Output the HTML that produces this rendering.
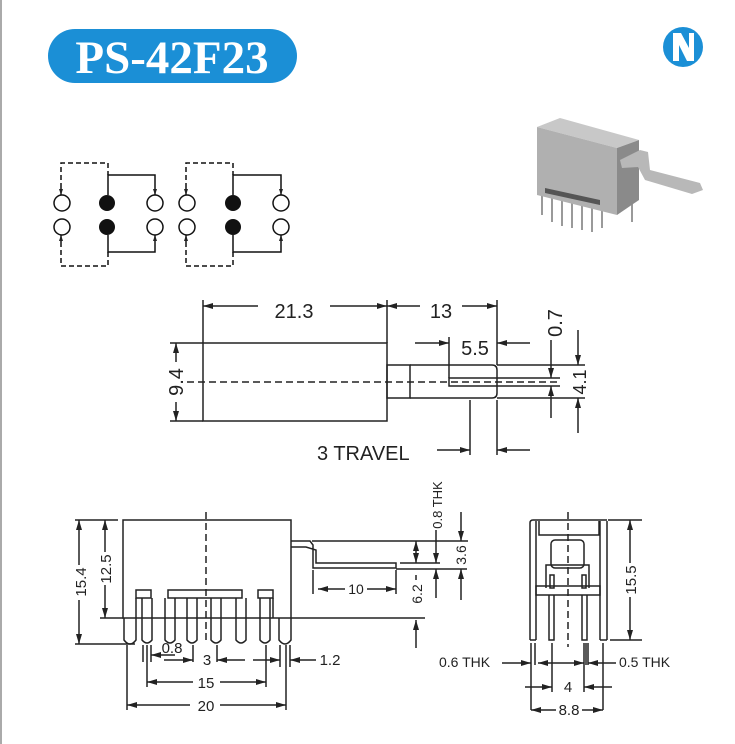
<!DOCTYPE html>
<html><head><meta charset="utf-8"><style>
html,body{margin:0;padding:0;background:#fff}
svg{display:block}
text{font-family:"Liberation Sans",sans-serif;fill:#222}
</style></head><body>
<svg width="735" height="744" viewBox="0 0 735 744" xmlns="http://www.w3.org/2000/svg">
<defs>
<marker id="a" viewBox="0 0 10 6" refX="10" refY="3" markerWidth="10" markerHeight="6" orient="auto-start-reverse" markerUnits="userSpaceOnUse"><path d="M0,0 L10,3 L0,6z" fill="#222"/></marker>
<marker id="s" viewBox="0 0 6 4" refX="6" refY="2" markerWidth="6" markerHeight="4" orient="auto" markerUnits="userSpaceOnUse"><path d="M0,0 L6,2 L0,4z" fill="#222"/></marker>
</defs>
<rect x="0" y="0" width="2" height="744" fill="#aaa"/>
<!-- title -->
<rect x="48" y="29" width="249" height="54" rx="27" fill="#1b8fd6"/>
<text x="172" y="73" text-anchor="middle" font-weight="bold" font-size="47" style="fill:#fff;font-family:'Liberation Serif',serif">PS-42F23</text>
<!-- N logo -->
<circle cx="683" cy="47" r="20" fill="#1b8fd6"/>
<path d="M673,61 L673,33 L681,33 L689,48 L689,33 L694,33 L694,61 L687,61 L679,45 L679,61z" fill="#fff"/>
<!-- product photo approx -->
<g>
<g stroke="#9a9a9a" stroke-width="2"><line x1="542" y1="190" x2="542" y2="215"/><line x1="552" y1="193" x2="552" y2="222"/><line x1="562" y1="196" x2="562" y2="226"/><line x1="572" y1="198" x2="572" y2="228"/><line x1="582" y1="200" x2="582" y2="230"/><line x1="592" y1="202" x2="592" y2="232"/><line x1="602" y1="204" x2="602" y2="228"/><line x1="632" y1="195" x2="632" y2="222"/></g>
<polygon points="537,127 560,118 639,140 617,148" fill="#c8c8c8"/>
<polygon points="537,127 617,148 617,215 537,195" fill="#b0b0b0"/>
<polygon points="617,148 639,140 639,200 617,215" fill="#8a8a8a"/>
<polygon points="620,160 640,150 648,152 650,170 700,183 703,190 692,194 645,180 638,167 622,168" fill="#b8b8b8"/>
<polygon points="545,188 600,200 600,205 545,193" fill="#555"/>
</g>
<!-- schematic -->
<g stroke="#111" stroke-width="1.5" fill="none">
<polyline points="61,188 61,163 108,163 108,175" stroke-dasharray="5,3"/>
<polyline points="61,242 61,266 108,266 108,252" stroke-dasharray="5,3"/>
<polyline points="186,188 186,163 233,163 233,175" stroke-dasharray="5,3"/>
<polyline points="186,242 186,266 233,266 233,252" stroke-dasharray="5,3"/>
<line x1="61" y1="188" x2="61" y2="195" marker-end="url(#s)"/>
<line x1="61" y1="242" x2="61" y2="235" marker-end="url(#s)"/>
<line x1="186" y1="188" x2="186" y2="195" marker-end="url(#s)"/>
<line x1="186" y1="242" x2="186" y2="235" marker-end="url(#s)"/>
<polyline points="108,195 108,175 155,175 155,195" marker-end="url(#s)"/>
<polyline points="108,235 108,252 155,252 155,235" marker-end="url(#s)"/>
<polyline points="233,195 233,175 281,175 281,195" marker-end="url(#s)"/>
<polyline points="233,235 233,252 281,252 281,235" marker-end="url(#s)"/>
<circle cx="62" cy="203" r="8"/><circle cx="62" cy="227" r="8"/>
<circle cx="155" cy="203" r="8"/><circle cx="155" cy="227" r="8"/>
<circle cx="187" cy="203" r="8"/><circle cx="187" cy="227" r="8"/>
<circle cx="281" cy="203" r="8"/><circle cx="281" cy="227" r="8"/>
</g>
<g fill="#111"><circle cx="107" cy="203" r="8"/><circle cx="107" cy="227" r="8"/><circle cx="233" cy="203" r="8"/><circle cx="233" cy="227" r="8"/></g>

<!-- top view -->
<g stroke="#222" stroke-width="1.5" fill="none">
<rect x="203" y="343" width="184" height="78"/>
<rect x="387" y="365" width="23" height="33"/>
<path d="M410,365 L492,365 Q497,365 497,370 L497,393 Q497,398 492,398 L410,398"/>
<polyline points="497,378 449,378 449,386 497,386"/>
<line x1="176" y1="382" x2="560" y2="382" stroke-dasharray="7,4"/>
<line x1="203" y1="300" x2="203" y2="343"/><line x1="387" y1="300" x2="387" y2="343"/><line x1="497" y1="300" x2="497" y2="365"/>
<line x1="203" y1="306" x2="258" y2="306" marker-start="url(#a)"/><line x1="330" y1="306" x2="387" y2="306" marker-end="url(#a)"/>
<line x1="387" y1="306" x2="420" y2="306" marker-start="url(#a)"/><line x1="462" y1="306" x2="497" y2="306" marker-end="url(#a)"/>
<line x1="449" y1="337" x2="449" y2="378"/>
<line x1="415" y1="343" x2="449" y2="343" marker-end="url(#a)"/><line x1="530" y1="343" x2="497" y2="343" marker-end="url(#a)"/>
<line x1="497" y1="378" x2="560" y2="378"/><line x1="497" y1="386" x2="560" y2="386"/>
<line x1="551" y1="340" x2="551" y2="378" marker-end="url(#a)"/><line x1="551" y1="418" x2="551" y2="386" marker-end="url(#a)"/>
<line x1="497" y1="365" x2="585" y2="365"/><line x1="497" y1="398" x2="585" y2="398"/>
<line x1="578" y1="330" x2="578" y2="365" marker-end="url(#a)"/><line x1="578" y1="433" x2="578" y2="398" marker-end="url(#a)"/>
<line x1="170" y1="343" x2="203" y2="343"/><line x1="170" y1="421" x2="203" y2="421"/>
<line x1="176" y1="343" x2="176" y2="421" marker-start="url(#a)" marker-end="url(#a)"/>
<line x1="470" y1="400" x2="470" y2="455"/><line x1="497" y1="400" x2="497" y2="455"/>
<line x1="437" y1="450" x2="470" y2="450" marker-end="url(#a)"/><line x1="530" y1="450" x2="497" y2="450" marker-end="url(#a)"/>
</g>
<rect x="168" y="362" width="16" height="40" fill="#fff"/>
<text x="294" y="318" font-size="20" text-anchor="middle">21.3</text>
<text x="441" y="318" font-size="20" text-anchor="middle">13</text>
<text x="475" y="355" font-size="20" text-anchor="middle">5.5</text>
<text transform="translate(562,323) rotate(-90)" font-size="20" text-anchor="middle">0.7</text>
<text transform="translate(586,382) rotate(-90)" font-size="18" text-anchor="middle">4.1</text>
<text transform="translate(183,382) rotate(-90)" font-size="20" text-anchor="middle">9.4</text>
<text x="317" y="460" font-size="20">3 TRAVEL</text>

<!-- front view bottom-left -->
<g stroke="#222" stroke-width="1.5" fill="none">
<rect x="123" y="520" width="168" height="98"/>
<rect x="136" y="590" width="15" height="8"/><rect x="258" y="590" width="15" height="8"/>
<rect x="168" y="590" width="74" height="8"/>
<line x1="136" y1="598" x2="136" y2="618"/><line x1="273" y1="598" x2="273" y2="618"/>
<line x1="206" y1="512" x2="206" y2="642" stroke-dasharray="7,4"/>
<path d="M124,618 L124,640 Q130,648 136,640 L136,618"/>
<path d="M279,618 L279,640 Q285,648 291,640 L291,618"/>
<g>
<path d="M142,598 L142,640 Q147,646 152,640 L152,598"/>
<path d="M165,598 L165,640 Q170,646 175,640 L175,598"/>
<path d="M187,598 L187,640 Q192,646 197,640 L197,598"/>
<path d="M211,598 L211,640 Q216,646 221,640 L221,598"/>
<path d="M236,598 L236,640 Q241,646 246,640 L246,598"/>
<path d="M260,598 L260,640 Q265,646 270,640 L270,598"/>
</g>
<polyline points="291,541 310,541 313,545 313,568 396,568 396,563 316,563 316,550 306,547 291,547" />
<line x1="312" y1="541" x2="468" y2="541"/>
<line x1="400" y1="563" x2="440" y2="563"/>
<line x1="396" y1="569" x2="467" y2="569"/>
<line x1="291" y1="618" x2="425" y2="618"/>
<line x1="313" y1="570" x2="313" y2="594"/><line x1="396" y1="570" x2="396" y2="594"/>
<line x1="318" y1="589" x2="345" y2="589" marker-start="url(#a)"/><line x1="367" y1="589" x2="396" y2="589" marker-end="url(#a)"/>
<line x1="416" y1="541" x2="416" y2="563" marker-start="url(#a)" marker-end="url(#a)"/>
<line x1="416" y1="575" x2="416" y2="580"/>
<line x1="416" y1="648" x2="416" y2="620" marker-end="url(#a)"/>
<line x1="436" y1="530" x2="436" y2="563" marker-end="url(#a)"/>
<line x1="436" y1="598" x2="436" y2="569" marker-end="url(#a)"/>
<line x1="461" y1="512" x2="461" y2="541" marker-end="url(#a)"/>
<line x1="461" y1="600" x2="461" y2="569" marker-end="url(#a)"/>
<line x1="75" y1="520" x2="118" y2="520"/><line x1="75" y1="644" x2="135" y2="644"/>
<line x1="100" y1="618" x2="123" y2="618"/>
<line x1="79" y1="520" x2="79" y2="565" marker-start="url(#a)"/><line x1="79" y1="600" x2="79" y2="644" marker-end="url(#a)"/>
<line x1="105" y1="520" x2="105" y2="552" marker-start="url(#a)"/><line x1="105" y1="585" x2="105" y2="618" marker-end="url(#a)"/>
<line x1="127" y1="645" x2="127" y2="710"/><line x1="286" y1="645" x2="286" y2="710"/>
<line x1="127" y1="705" x2="190" y2="705" marker-start="url(#a)"/><line x1="220" y1="705" x2="286" y2="705" marker-end="url(#a)"/>
<line x1="147" y1="645" x2="147" y2="687"/><line x1="266" y1="645" x2="266" y2="687"/>
<line x1="147" y1="682" x2="193" y2="682" marker-start="url(#a)"/><line x1="220" y1="682" x2="266" y2="682" marker-end="url(#a)"/>
<line x1="143" y1="645" x2="143" y2="662"/><line x1="151" y1="645" x2="151" y2="662"/>
<line x1="193" y1="645" x2="193" y2="662"/><line x1="217" y1="645" x2="217" y2="662"/>
<line x1="164" y1="660" x2="193" y2="660" marker-end="url(#a)"/><line x1="245" y1="660" x2="217" y2="660" marker-end="url(#a)"/>
<line x1="151" y1="655" x2="175" y2="655" marker-start="url(#a)"/>
<line x1="280" y1="645" x2="280" y2="667"/><line x1="290" y1="645" x2="290" y2="667"/>
<line x1="253" y1="660" x2="280" y2="660" marker-end="url(#a)"/><line x1="316" y1="660" x2="290" y2="660" marker-end="url(#a)"/>
</g>
<rect x="72" y="566" width="14" height="33" fill="#fff"/>
<text transform="translate(86,582) rotate(-90)" font-size="15" text-anchor="middle">15.4</text>
<text transform="translate(111,569) rotate(-90)" font-size="15" text-anchor="middle">12.5</text>
<text x="172" y="653" font-size="15" text-anchor="middle">0.8</text>
<text x="207" y="665" font-size="15" text-anchor="middle">3</text>
<text x="330" y="665" font-size="15" text-anchor="middle">1.2</text>
<text x="206" y="688" font-size="15" text-anchor="middle">15</text>
<text x="206" y="711" font-size="15" text-anchor="middle">20</text>
<text x="356" y="594" font-size="14" text-anchor="middle">10</text>
<text transform="translate(422,594) rotate(-90)" font-size="14" text-anchor="middle">6.2</text>
<text transform="translate(442,505) rotate(-90)" font-size="13" text-anchor="middle">0.8 THK</text>
<text transform="translate(466,555) rotate(-90)" font-size="14" text-anchor="middle">3.6</text>

<!-- side view right -->
<g stroke="#222" stroke-width="1.5" fill="none">
<path d="M530,640 L530,523 Q530,520 533,520 L607,520"/>
<line x1="536" y1="521" x2="536" y2="640"/>
<line x1="530" y1="640" x2="536" y2="640"/>
<line x1="600" y1="521" x2="600" y2="640"/><line x1="607" y1="521" x2="607" y2="640"/><line x1="600" y1="640" x2="607" y2="640"/>
<polyline points="539,521 539,535 599,535 599,521"/>
<rect x="551" y="540" width="33" height="28" rx="4"/>
<polyline points="546,588 546,565 589,565 589,588"/>
<rect x="550" y="575" width="4" height="13"/><rect x="582" y="575" width="4" height="13"/>
<rect x="536" y="586" width="64" height="9"/>
<path d="M549,595 L549,640 L554,640 L554,595"/>
<path d="M582,595 L582,640 L587,640 L587,595"/>
<line x1="568" y1="512" x2="568" y2="647" stroke-dasharray="7,4"/>
<line x1="608" y1="520" x2="642" y2="520"/><line x1="610" y1="640" x2="642" y2="640"/>
<line x1="630" y1="520" x2="630" y2="563" marker-start="url(#a)"/><line x1="630" y1="597" x2="630" y2="640" marker-end="url(#a)"/>
<line x1="531" y1="643" x2="531" y2="710"/><line x1="603" y1="643" x2="603" y2="710"/>
<line x1="535" y1="643" x2="535" y2="665"/>
<line x1="552" y1="643" x2="552" y2="692"/><line x1="584" y1="643" x2="584" y2="692"/>
<line x1="586" y1="643" x2="586" y2="665"/><line x1="588" y1="643" x2="588" y2="665"/>
<line x1="502" y1="663" x2="531" y2="663" marker-end="url(#a)"/>
<line x1="538" y1="663" x2="584" y2="663" marker-start="url(#a)" marker-end="url(#a)"/>
<line x1="616" y1="663" x2="588" y2="663" marker-end="url(#a)"/>
<line x1="525" y1="687" x2="552" y2="687" marker-end="url(#a)"/><line x1="612" y1="687" x2="584" y2="687" marker-end="url(#a)"/>
<line x1="531" y1="710" x2="556" y2="710" marker-start="url(#a)"/><line x1="582" y1="710" x2="603" y2="710" marker-end="url(#a)"/>
</g>
<text transform="translate(636,580) rotate(-90)" font-size="15" text-anchor="middle">15.5</text>
<text x="439" y="667" font-size="14">0.6 THK</text>
<text x="619" y="667" font-size="14">0.5 THK</text>
<text x="568" y="692" font-size="15" text-anchor="middle">4</text>
<text x="569" y="715" font-size="15" text-anchor="middle">8.8</text>
</svg>
</body></html>
